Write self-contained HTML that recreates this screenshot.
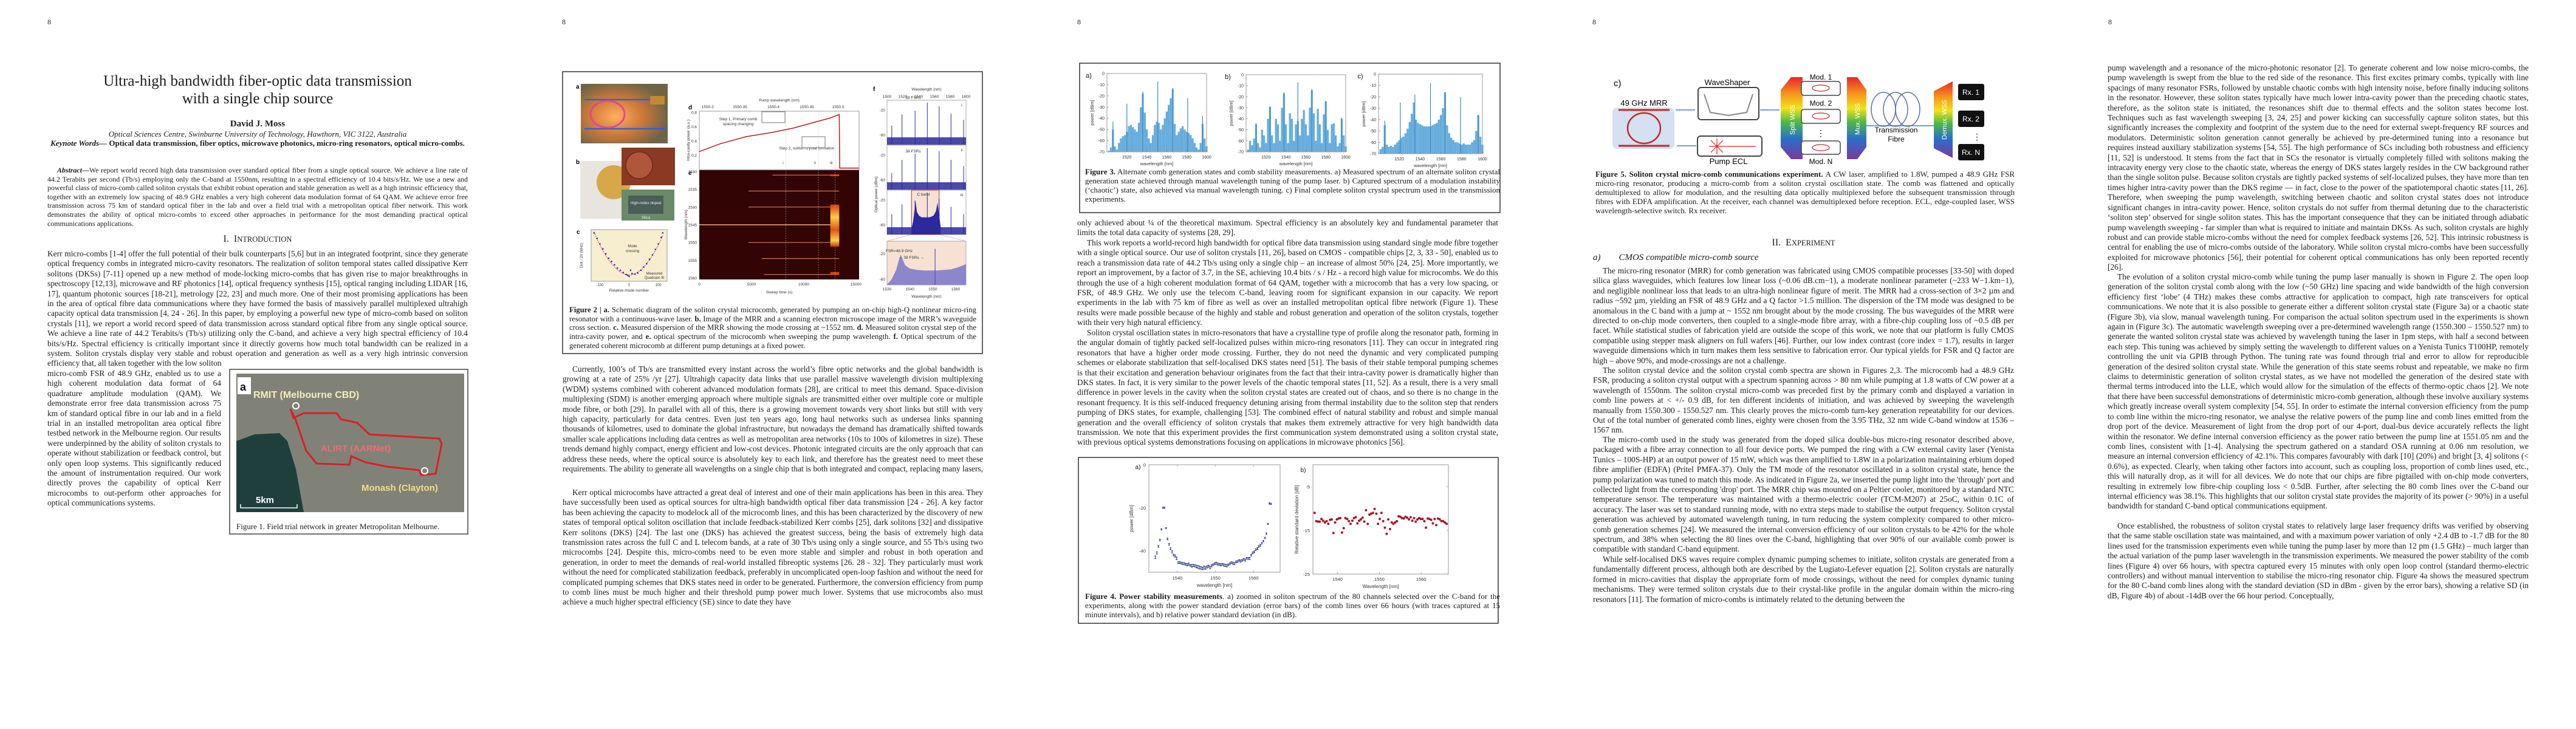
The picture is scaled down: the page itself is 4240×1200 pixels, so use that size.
<!DOCTYPE html>
<html><head><meta charset="utf-8">
<style>
html,body{margin:0;padding:0;background:#fff;}
body{width:4240px;height:1200px;position:relative;overflow:hidden;font-family:"Liberation Serif",serif;color:#1c1c1c;}
.pn{position:absolute;top:29px;font-size:12px;}
.t{position:absolute;font-size:13.4px;line-height:16.4px;text-align:justify;overflow:hidden;}
.ind{text-indent:16px;}
.cap{position:absolute;font-size:13px;line-height:15px;text-align:justify;overflow:hidden;}
.ctr{position:absolute;text-align:center;white-space:nowrap;}
svg{position:absolute;left:0;top:0;}
</style></head>
<body>
<svg id="figs" width="4240" height="1200" viewBox="0 0 4240 1200" xmlns="http://www.w3.org/2000/svg">
<defs>
<radialGradient id="glow" cx="0.4" cy="0.55" r="0.6"><stop offset="0" stop-color="#ffb060"/><stop offset="0.5" stop-color="#d07a3a"/><stop offset="1" stop-color="#6f6445"/></radialGradient>
<linearGradient id="rain" x1="0" y1="0" x2="0" y2="1"><stop offset="0" stop-color="#e8262a"/><stop offset="0.2" stop-color="#f7931e"/><stop offset="0.38" stop-color="#f2e21a"/><stop offset="0.55" stop-color="#4cb848"/><stop offset="0.75" stop-color="#2a6fc9"/><stop offset="1" stop-color="#7a3aa0"/></linearGradient>
<linearGradient id="hot" x1="0" y1="0" x2="0" y2="1"><stop offset="0" stop-color="#d63a10"/><stop offset="0.3" stop-color="#ffcc40"/><stop offset="0.6" stop-color="#e05010"/><stop offset="0.85" stop-color="#ffd040"/><stop offset="1" stop-color="#c03010"/></linearGradient>
</defs>
<!-- Figure 1 -->
<g>
<rect x="378" y="608" width="392" height="271" fill="#fff" stroke="#444" stroke-width="1.5"/>
<rect x="389" y="615" width="375" height="228" fill="#7b7d73"/>
<rect x="389" y="615" width="375" height="228" fill="#8c8a7c" opacity="0.4"/>
<polygon points="389,726 419,715 460,713 473,726 487,772 500,843 389,843" fill="#1f3f3c"/>
<polyline points="478,673 483,688 500,680 554,680 561,690 588,696 608,715 723,722 727,730 717,780 693,782 690,774 636,768 602,761 578,751 575,765 521,763 504,742 487,692 478,673" fill="none" stroke="#d82028" stroke-width="3"/>
<rect x="391" y="621" width="22" height="28" fill="#fff"/>
<text x="395" y="643" font-family="Liberation Sans" font-weight="bold" font-size="18" fill="#111">a</text>
<text x="417" y="655" font-family="Liberation Sans" font-weight="bold" font-size="16" fill="#f4eec0">RMIT (Melbourne CBD)</text>
<text x="528" y="743" font-family="Liberation Sans" font-weight="bold" font-size="15" fill="#f06a78">ALIRT (AARNet)</text>
<text x="595" y="808" font-family="Liberation Sans" font-weight="bold" font-size="15" fill="#f2de80">Monash (Clayton)</text>
<text x="421" y="828" font-family="Liberation Sans" font-weight="bold" font-size="15" fill="#fff">5km</text>
<polyline points="396,830 396,836 489,836 489,830" fill="none" stroke="#fff" stroke-width="1.5"/>
<circle cx="487" cy="668" r="5" fill="none" stroke="#fff" stroke-width="2"/>
<circle cx="699" cy="775" r="5" fill="none" stroke="#fff" stroke-width="2"/>
</g>
<!-- Figure 2 -->
<g>
<rect x="926" y="118" width="691" height="464" fill="#fff" stroke="#333" stroke-width="1.5"/>
<text x="948" y="146" font-family="Liberation Sans" font-weight="bold" font-size="10">a</text>
<rect x="956" y="138" width="143" height="98" fill="url(#glow)"/>
<line x1="962" y1="164" x2="1070" y2="164" stroke="#3a5cd8" stroke-width="2.5"/>
<line x1="962" y1="212" x2="1095" y2="212" stroke="#3a5cd8" stroke-width="2.5"/>
<ellipse cx="1000" cy="188" rx="28" ry="22" fill="none" stroke="#e04890" stroke-width="3"/>
<rect x="1070" y="158" width="24" height="14" fill="#c08a30"/>
<text x="948" y="270" font-family="Liberation Sans" font-weight="bold" font-size="10">b</text>
<rect x="955" y="265" width="68" height="95" fill="#e8e4de"/>
<circle cx="1010" cy="300" r="28" fill="#d6a84a"/>
<rect x="1023" y="243" width="88" height="62" fill="#8a3a22"/>
<circle cx="1052" cy="272" r="22" fill="#b0563a" stroke="#5a1e10"/>
<rect x="1023" y="312" width="87" height="51" fill="#6b8a68"/>
<rect x="1034" y="322" width="58" height="30" fill="#4a5e58"/>
<text x="1063" y="336" text-anchor="middle" font-family="Liberation Sans" font-size="6.5" fill="#eee">High-index doped</text>
<text x="1063" y="360" text-anchor="middle" font-family="Liberation Sans" font-size="6" fill="#eee">Silica</text>
<text x="949" y="385" font-family="Liberation Sans" font-weight="bold" font-size="10">c</text>
<text x="1133" y="180" font-family="Liberation Sans" font-weight="bold" font-size="10">d</text>
<text x="1133" y="288" font-family="Liberation Sans" font-weight="bold" font-size="10">e</text>
<text x="1437" y="150" font-family="Liberation Sans" font-weight="bold" font-size="10">f</text>
<g id="fig2c"></g>
<g id="fig2d"></g>
<g id="fig2e"></g>
<g id="fig2f"></g>
</g>
<!-- Figure 3 -->
<g>
<rect x="1777" y="104" width="692" height="246" fill="#fff" stroke="#333" stroke-width="1.5"/>
<g id="fig3"></g>
</g>
<!-- Figure 4 -->
<g>
<rect x="1775" y="753" width="691" height="273" fill="#fff" stroke="#333" stroke-width="1.5"/>
<g id="fig4"></g>
</g>
<!-- Figure 5 -->
<g font-family="Liberation Sans">
<text x="2656" y="142" font-size="15">c)</text>
<text x="2706" y="174" text-anchor="middle" font-size="13">49 GHz MRR</text>
<rect x="2654" y="177" width="102" height="68" rx="8" fill="#d5e0f0"/>
<line x1="2664" y1="181" x2="2748" y2="181" stroke="#c0282c" stroke-width="3"/>
<line x1="2664" y1="240" x2="2748" y2="240" stroke="#c0282c" stroke-width="3"/>
<ellipse cx="2706" cy="211" rx="27" ry="25" fill="none" stroke="#c0282c" stroke-width="2.5"/>
<line x1="2758" y1="181" x2="2790" y2="181" stroke="#7a9ad8" stroke-width="2"/>
<line x1="2792" y1="240" x2="2760" y2="240" stroke="#7a9ad8" stroke-width="2"/>
<text x="2843" y="140" text-anchor="middle" font-size="13">WaveShaper</text>
<rect x="2795" y="144" width="100" height="53" rx="5" fill="#fff" stroke="#444" stroke-width="2"/>
<polyline points="2805,155 2815,185 2845,190 2875,185 2885,155" fill="none" stroke="#888" stroke-width="2"/>
<line x1="2843" y1="152" x2="2843" y2="190" stroke="url(#rain)" stroke-width="3"/>
<rect x="2794" y="224" width="106" height="33" rx="5" fill="#fff" stroke="#444" stroke-width="2"/>
<g stroke="#e02020" stroke-width="1.2"><line x1="2813" y1="241" x2="2840" y2="241"/><line x1="2826" y1="228" x2="2826" y2="254"/><line x1="2816" y1="231" x2="2836" y2="251"/><line x1="2836" y1="231" x2="2816" y2="251"/><line x1="2840" y1="241" x2="2890" y2="241"/></g>
<text x="2845" y="270" text-anchor="middle" font-size="13">Pump ECL</text>
<line x1="2897" y1="181" x2="2929" y2="181" stroke="#7a9ad8" stroke-width="2"/>
<polygon points="2931,148 2948,127 2967,127 2967,262 2948,262 2931,242" fill="url(#rain)"/>
<text transform="translate(2954,222) rotate(-90)" font-size="11" fill="#fff">Split WSS</text>
<text x="2997" y="131" text-anchor="middle" font-size="12">Mod. 1</text>
<rect x="2965" y="134" width="64" height="23" rx="4" fill="#fff" stroke="#444" stroke-width="1.5"/>
<text x="2997" y="174" text-anchor="middle" font-size="12">Mod. 2</text>
<rect x="2965" y="180" width="64" height="23" rx="4" fill="#fff" stroke="#444" stroke-width="1.5"/>
<text x="2997" y="224" text-anchor="middle" font-size="14">⋮</text>
<rect x="2965" y="232" width="64" height="22" rx="4" fill="#fff" stroke="#444" stroke-width="1.5"/>
<text x="2997" y="270" text-anchor="middle" font-size="12">Mod. N</text>
<g fill="none" stroke="#c0282c" stroke-width="1.2"><ellipse cx="2997" cy="145" rx="14" ry="5"/><ellipse cx="2997" cy="191" rx="14" ry="5"/><ellipse cx="2997" cy="243" rx="14" ry="5"/></g>
<polygon points="3040,127 3057,127 3072,148 3072,242 3057,262 3040,262" fill="url(#rain)"/>
<text transform="translate(3061,222) rotate(-90)" font-size="11" fill="#fff">Mux. WSS</text>
<line x1="3072" y1="207" x2="3183" y2="207" stroke="#7a9ad8" stroke-width="2"/>
<g fill="none" stroke="#5a70a8" stroke-width="1.5"><ellipse cx="3100" cy="180" rx="20" ry="28"/><ellipse cx="3120" cy="180" rx="20" ry="28"/><ellipse cx="3140" cy="180" rx="20" ry="28"/></g>
<text x="3121" y="218" text-anchor="middle" font-size="12">Transmission</text>
<text x="3121" y="233" text-anchor="middle" font-size="12">Fibre</text>
<polygon points="3183,150 3214,134 3214,260 3183,244" fill="url(#rain)"/>
<text transform="translate(3204,230) rotate(-90)" font-size="11" fill="#fff">Demux. WSS</text>
<rect x="3223" y="138" width="43" height="27" rx="3" fill="#111"/>
<text x="3244" y="156" text-anchor="middle" font-size="12" fill="#fff">Rx. 1</text>
<rect x="3223" y="182" width="43" height="27" rx="3" fill="#111"/>
<text x="3244" y="200" text-anchor="middle" font-size="12" fill="#fff">Rx. 2</text>
<text x="3254" y="230" text-anchor="middle" font-size="14">⋮</text>
<rect x="3223" y="237" width="43" height="27" rx="3" fill="#111"/>
<text x="3244" y="255" text-anchor="middle" font-size="12" fill="#fff">Rx. N</text>
</g>
</svg>

<!-- page numbers -->
<div class="pn" style="left:78px">8</div>
<div class="pn" style="left:925px">8</div>
<div class="pn" style="left:1773px">8</div>
<div class="pn" style="left:2621px">8</div>
<div class="pn" style="left:3470px">8</div>

<!-- Page 1 -->
<div class="ctr" style="left:0;width:848px;top:119px;font-size:25px;line-height:29px">Ultra-high bandwidth fiber-optic data transmission<br>with a single chip source</div>
<div class="ctr" style="left:0;width:848px;top:196px;font-size:15px;font-weight:bold">David J. Moss</div>
<div class="ctr" style="left:0;width:848px;top:213px;font-size:13px;font-style:italic">Optical Sciences Centre, Swinburne University of Technology, Hawthorn, VIC 3122, Australia</div>
<div class="ctr" style="left:0;width:848px;top:228px;font-size:13px;font-weight:bold"><i>Keynote Words—</i> Optical data transmission, fiber optics, microwave photonics, micro-ring resonators, optical micro-combs.</div>
<div class="t" style="left:78px;top:273px;width:692px;height:104px;font-size:11.9px;line-height:14.6px;text-indent:16px"><b><i>Abstract</i>—</b>We report world record high data transmission over standard optical fiber from a single optical source. We achieve a line rate of 44.2 Terabits per second (Tb/s) employing only the C-band at 1550nm, resulting in a spectral efficiency of 10.4 bits/s/Hz. We use a new and powerful class of micro-comb called soliton crystals that exhibit robust operation and stable generation as well as a high intrinsic efficiency that, together with an extremely low spacing of 48.9 GHz enables a very high coherent data modulation format of 64 QAM. We achieve error free transmission across 75 km of standard optical fiber in the lab and over a field trial with a metropolitan optical fiber network. This work demonstrates the ability of optical micro-combs to exceed other approaches in performance for the most demanding practical optical communications applications.</div>
<div class="ctr" style="left:0;width:848px;top:385px;font-size:16px">I.&nbsp; I<span style="font-size:12.5px">NTRODUCTION</span></div>
<div class="t" style="left:78px;top:410px;width:692px;height:197px">Kerr micro-combs [1-4] offer the full potential of their bulk counterparts [5,6] but in an integrated footprint, since they generate optical frequency combs in integrated micro-cavity resonators. The realization of soliton temporal states called dissipative Kerr solitons (DKSs) [7-11] opened up a new method of mode-locking micro-combs that has given rise to major breakthroughs in spectroscopy [12,13], microwave and RF photonics [14], optical frequency synthesis [15], optical ranging including LIDAR [16, 17], quantum photonic sources [18-21], metrology [22, 23] and much more. One of their most promising applications has been in the area of optical fibre data communications where they have formed the basis of massively parallel multiplexed ultrahigh capacity optical data transmission [4, 24 - 26]. In this paper, by employing a powerful new type of micro-comb based on soliton crystals [11], we report a world record speed of data transmission across standard optical fibre from any single optical source. We achieve a line rate of 44.2 Terabits/s (Tb/s) utilizing only the C-band, and achieve a very high spectral efficiency of 10.4 bits/s/Hz. Spectral efficiency is critically important since it directly governs how much total bandwidth can be realized in a system. Soliton crystals display very stable and robust operation and generation as well as a very high intrinsic conversion efficiency that, all taken together with the low soliton</div>
<div class="t" style="left:78px;top:607px;width:286px;height:246px">micro-comb FSR of 48.9 GHz, enabled us to use a high coherent modulation data format of 64 quadrature amplitude modulation (QAM). We demonstrate error free data transmission across 75 km of standard optical fibre in our lab and in a field trial in an installed metropolitan area optical fibre testbed network in the Melbourne region. Our results were underpinned by the ability of soliton crystals to operate without stabilization or feedback control, but only open loop systems. This significantly reduced the amount of instrumentation required. Our work directly proves the capability of optical Kerr microcombs to out-perform other approaches for optical communications systems.</div>
<div class="cap" style="left:389px;top:859px;width:375px">Figure 1. Field trial network in greater Metropolitan Melbourne.</div>

<!-- Page 2 -->
<div class="cap" style="left:937px;top:503px;width:670px;font-size:12.7px;line-height:14.7px;height:75px"><b>Figure 2 | a.</b> Schematic diagram of the soliton crystal microcomb, generated by pumping an on-chip high-Q nonlinear micro-ring resonator with a continuous-wave laser. <b>b.</b> Image of the MRR and a scanning electron microscope image of the MRR’s waveguide cross section. <b>c.</b> Measured dispersion of the MRR showing the mode crossing at ~1552 nm. <b>d.</b> Measured soliton crystal step of the intra-cavity power, and <b>e.</b> optical spectrum of the microcomb when sweeping the pump wavelength. <b>f.</b> Optical spectrum of the generated coherent microcomb at different pump detunings at a fixed power.</div>
<div class="t ind" style="left:926px;top:600px;width:692px;height:181px">Currently, 100’s of Tb/s are transmitted every instant across the world’s fibre optic networks and the global bandwidth is growing at a rate of 25% /yr [27]. Ultrahigh capacity data links that use parallel massive wavelength division multiplexing (WDM) systems combined with coherent advanced modulation formats [28], are critical to meet this demand. Space-division multiplexing (SDM) is another emerging approach where multiple signals are transmitted either over multiple core or multiple mode fibre, or both [29]. In parallel with all of this, there is a growing movement towards very short links but still with very high capacity, particularly for data centres. Even just ten years ago, long haul networks such as undersea links spanning thousands of kilometres, used to dominate the global infrastructure, but nowadays the demand has dramatically shifted towards smaller scale applications including data centres as well as metropolitan area networks (10s to 100s of kilometres in size). These trends demand highly compact, energy efficient and low-cost devices. Photonic integrated circuits are the only approach that can address these needs, where the optical source is absolutely key to each link, and therefore has the greatest need to meet these requirements. The ability to generate all wavelengths on a single chip that is both integrated and compact, replacing many lasers, will yield the highest benefits [30-32].</div>
<div class="t ind" style="left:926px;top:803px;width:692px;height:197px">Kerr optical microcombs have attracted a great deal of interest and one of their main applications has been in this area. They have successfully been used as optical sources for ultra-high bandwidth optical fiber data transmission [24 - 26]. A key factor has been achieving the capacity to modelock all of the microcomb lines, and this has been characterized by the discovery of new states of temporal optical soliton oscillation that include feedback-stabilized Kerr combs [25], dark solitons [32] and dissipative Kerr solitons (DKS) [24]. The last one (DKS) has achieved the greatest success, being the basis of extremely high data transmission rates across the full C and L telecom bands, at a rate of 30 Tb/s using only a single source, and 55 Tb/s using two microcombs [24]. Despite this, micro-combs need to be even more stable and simpler and robust in both operation and generation, in order to meet the demands of real-world installed fibreoptic systems [26. 28 - 32]. They particularly must work without the need for complicated stabilization feedback, preferably in uncomplicated open-loop fashion and without the need for complicated pumping schemes that DKS states need in order to be generated. Furthermore, the conversion efficiency from pump to comb lines must be much higher and their threshold pump power much lower. Systems that use microcombs also must achieve a much higher spectral efficiency (SE) since to date they have</div>

<!-- Page 3 -->
<div class="cap" style="left:1786px;top:275px;width:683px;height:62px"><b>Figure 3.</b> Alternate comb generation states and comb stability measurements. a) Measured spectrum of an alternate soliton crystal generation state achieved through manual wavelength tuning of the pump laser. b) Captured spectrum of a modulation instability (‘chaotic’) state, also achieved via manual wavelength tuning. c) Final complete soliton crystal spectrum used in the transmission experiments.</div>
<div class="t" style="left:1773px;top:359px;width:693px;height:33px">only achieved about ¼ of the theoretical maximum. Spectral efficiency is an absolutely key and fundamental parameter that limits the total data capacity of systems [28, 29].</div>
<div class="t ind" style="left:1773px;top:392px;width:693px;height:148px">This work reports a world-record high bandwidth for optical fibre data transmission using standard single mode fibre together with a single optical source. Our use of soliton crystals [11, 26], based on CMOS - compatible chips [2, 3, 33 - 50], enabled us to reach a transmission data rate of 44.2 Tb/s using only a single chip – an increase of almost 50% [24, 25]. More importantly, we report an improvement, by a factor of 3.7, in the SE, achieving 10.4 bits / s / Hz - a record high value for microcombs. We do this through the use of a high coherent modulation format of 64 QAM, together with a microcomb that has a very low spacing, or FSR, of 48.9 GHz. We only use the telecom C-band, leaving room for significant expansion in our capacity. We report experiments in the lab with 75 km of fibre as well as over an installed metropolitan optical fibre network (Figure 1). These results were made possible because of the highly and stable and robust generation and operation of the soliton crystals, together with their very high natural efficiency.</div>
<div class="t ind" style="left:1773px;top:540px;width:693px;height:197px">Soliton crystal oscillation states in micro-resonators that have a crystalline type of profile along the resonator path, forming in the angular domain of tightly packed self-localized pulses within micro-ring resonators [11]. They can occur in integrated ring resonators that have a higher order mode crossing. Further, they do not need the dynamic and very complicated pumping schemes or elaborate stabilization that self-localised DKS states need [51]. The basis of their stable temporal pumping schemes is that their excitation and generation behaviour originates from the fact that their intra-cavity power is dramatically higher than DKS states. In fact, it is very similar to the power levels of the chaotic temporal states [11, 52]. As a result, there is a very small difference in power levels in the cavity when the soliton crystal states are created out of chaos, and so there is no change in the resonant frequency. It is this self-induced frequency detuning arising from thermal instability due to the soliton step that renders pumping of DKS states, for example, challenging [53]. The combined effect of natural stability and robust and simple manual generation and the overall efficiency of soliton crystals that makes them extremely attractive for very high bandwidth data transmission. We note that this experiment provides the first communication system demonstrated using a soliton crystal state, with previous optical systems demonstrations focusing on applications in microwave photonics [56].</div>
<div class="cap" style="left:1786px;top:974px;width:683px;height:46px"><b>Figure 4. Power stability measurements</b>. a) zoomed in soliton spectrum of the 80 channels selected over the C-band for the experiments, along with the power standard deviation (error bars) of the comb lines over 66 hours (with traces captured at 15 minute intervals), and b) relative power standard deviation (in dB).</div>

<!-- Page 4 -->
<div class="cap" style="left:2626px;top:279px;width:690px;height:76px"><b>Figure 5. Soliton crystal micro-comb communications experiment.</b> A CW laser, amplified to 1.8W, pumped a 48.9 GHz FSR micro-ring resonator, producing a micro-comb from a soliton crystal oscillation state. The comb was flattened and optically demultiplexed to allow for modulation, and the resulting data optically multiplexed before the subsequent transmission through fibres with EDFA amplification. At the receiver, each channel was demultiplexed before reception. ECL, edge-coupled laser, WSS wavelength-selective switch. Rx receiver.</div>
<div class="ctr" style="left:2622px;width:693px;top:391px;font-size:16px">II.&nbsp; E<span style="font-size:12.5px">XPERIMENT</span></div>
<div style="position:absolute;left:2622px;top:416px;font-size:15px;font-style:italic;white-space:nowrap">a)&nbsp;&nbsp;&nbsp;&nbsp;&nbsp;&nbsp;&nbsp;&nbsp;CMOS compatible micro-comb source</div>
<div class="t ind" style="left:2622px;top:438px;width:693px;height:164px">The micro-ring resonator (MRR) for comb generation was fabricated using CMOS compatible processes [33-50] with doped silica glass waveguides, which features low linear loss (~0.06 dB.cm−1), a moderate nonlinear parameter (~233 W−1.km−1), and negligible nonlinear loss that leads to an ultra-high nonlinear figure of merit. The MRR had a cross-section of 3×2 µm and radius ~592 µm, yielding an FSR of 48.9 GHz and a Q factor &gt;1.5 million. The dispersion of the TM mode was designed to be anomalous in the C band with a jump at ~ 1552 nm brought about by the mode crossing. The bus waveguides of the MRR were directed to on-chip mode converters, then coupled to a single-mode fibre array, with a fibre-chip coupling loss of ~0.5 dB per facet. While statistical studies of fabrication yield are outside the scope of this work, we note that our platform is fully CMOS compatible using stepper mask aligners on full wafers [46]. Further, our low index contrast (core index = 1.7), results in larger waveguide dimensions which in turn makes them less sensitive to fabrication error. Our typical yields for FSR and Q factor are high – above 90%, and mode-crossings are not a challenge.</div>
<div class="t ind" style="left:2622px;top:602px;width:693px;height:115px">The soliton crystal device and the soliton crystal comb spectra are shown in Figures 2,3. The microcomb had a 48.9 GHz FSR, producing a soliton crystal output with a spectrum spanning across &gt; 80 nm while pumping at 1.8 watts of CW power at a wavelength of 1550nm. The soliton crystal micro-comb was preceded first by the primary comb and displayed a variation in comb line powers at &lt; +/- 0.9 dB, for ten different incidents of initiation, and was achieved by sweeping the wavelength manually from 1550.300 - 1550.527 nm. This clearly proves the micro-comb turn-key generation repeatability for our devices. Out of the total number of generated comb lines, eighty were chosen from the 3.95 THz, 32 nm wide C-band window at 1536 – 1567 nm.</div>
<div class="t ind" style="left:2622px;top:716px;width:693px;height:197px">The micro-comb used in the study was generated from the doped silica double-bus micro-ring resonator described above, packaged with a fibre array connection to all four device ports. We pumped the ring with a CW external cavity laser (Yenista Tunics – 100S-HP) at an output power of 15 mW, which was then amplified to 1.8W in a polarization maintaining erbium doped fibre amplifier (EDFA) (Pritel PMFA-37). Only the TM mode of the resonator oscillated in a soliton crystal state, hence the pump polarization was tuned to match this mode. As indicated in Figure 2a, we inserted the pump light into the 'through' port and collected light from the corresponding 'drop' port. The MRR chip was mounted on a Peltier cooler, monitored by a standard NTC temperature sensor. The temperature was maintained with a thermo-electric cooler (TCM-M207) at 25oC, within 0.1C of accuracy. The laser was set to standard running mode, with no extra steps made to stabilise the output frequency. Soliton crystal generation was achieved by automated wavelength tuning, in turn reducing the system complexity compared to other micro-comb generation schemes [24]. We measured the internal conversion efficiency of our soliton crystals to be 42% for the whole spectrum, and 38% when selecting the 80 lines over the C-band, highlighting that over 90% of our available comb power is compatible with standard C-band equipment.</div>
<div class="t ind" style="left:2622px;top:913px;width:693px;height:83px">While self-localised DKS waves require complex dynamic pumping schemes to initiate, soliton crystals are generated from a fundamentally different process, although both are described by the Lugiato-Lefever equation [2]. Soliton crystals are naturally formed in micro-cavities that display the appropriate form of mode crossings, without the need for complex dynamic tuning mechanisms. They were termed soliton crystals due to their crystal-like profile in the angular domain within the micro-ring resonators [11]. The formation of micro-combs is intimately related to the detuning between the</div>

<!-- Page 5 -->
<div class="t" style="left:3469px;top:104px;width:693px;height:345px">pump wavelength and a resonance of the micro-photonic resonator [2]. To generate coherent and low noise micro-combs, the pump wavelength is swept from the blue to the red side of the resonance. This first excites primary combs, typically with line spacings of many resonator FSRs, followed by unstable chaotic combs with high intensity noise, before finally inducing solitons in the resonator. However, these soliton states typically have much lower intra-cavity power than the preceding chaotic states, therefore, as the soliton state is initiated, the resonances shift due to thermal effects and the soliton states become lost. Techniques such as fast wavelength sweeping [3, 24, 25] and power kicking can successfully capture soliton states, but this significantly increases the complexity and footprint of the system due to the need for external swept-frequency RF sources and modulators. Deterministic soliton generation cannot generally be achieved by pre-determined tuning into a resonance but requires instead auxiliary stabilization systems [54, 55]. The high performance of SCs including both robustness and efficiency [11, 52] is understood. It stems from the fact that in SCs the resonator is virtually completely filled with solitons making the intracavity energy very close to the chaotic state, whereas the energy of DKS states largely resides in the CW background rather than the single soliton pulse. Because soliton crystals are tightly packed systems of self-localized pulses, they have more than ten times higher intra-cavity power than the DKS regime — in fact, close to the power of the spatiotemporal chaotic states [11, 26]. Therefore, when sweeping the pump wavelength, switching between chaotic and soliton crystal states does not introduce significant changes in intra-cavity power. Hence, soliton crystals do not suffer from thermal detuning due to the characteristic ‘soliton step’ observed for single soliton states. This has the important consequence that they can be initiated through adiabatic pump wavelength sweeping - far simpler than what is required to initiate and maintain DKSs. As such, soliton crystals are highly robust and can provide stable micro-combs without the need for complex feedback systems [26, 52]. This intrinsic robustness is central for enabling the use of micro-combs outside of the laboratory. While soliton crystal micro-combs have been successfully exploited for microwave photonics [56], their potential for coherent optical communications has only been reported recently [26].</div>
<div class="t ind" style="left:3469px;top:448px;width:693px;height:411px">The evolution of a soliton crystal micro-comb while tuning the pump laser manually is shown in Figure 2. The open loop generation of the soliton crystal comb along with the low (~50 GHz) line spacing and wide bandwidth of the high conversion efficiency first ‘lobe’ (4 THz) makes these combs attractive for application to compact, high rate transceivers for optical communications. We note that it is also possible to generate either a different soliton crystal state (Figure 3a) or a chaotic state (Figure 3b), via slow, manual wavelength tuning. For comparison the actual soliton spectrum used in the experiments is shown again in (Figure 3c). The automatic wavelength sweeping over a pre-determined wavelength range (1550.300 – 1550.527 nm) to generate the wanted soliton crystal state was achieved by wavelength tuning the laser in 1pm steps, with half a second between each step. This tuning was achieved by simply setting the wavelength to different values on a Yenista Tunics T100HP, remotely controlling the unit via GPIB through Python. The tuning rate was found through trial and error to allow for reproducible generation of the desired soliton crystal state. While the generation of this state seems robust and repeatable, we make no firm claims to deterministic generation of soliton crystal states, as we have not modelled the generation of the desired state with thermal terms introduced into the LLE, which would allow for the simulation of the effects of thermo-optic chaos [2]. We note that there have been successful demonstrations of deterministic micro-comb generation, although these involve auxiliary systems which greatly increase overall system complexity [54, 55]. In order to estimate the internal conversion efficiency from the pump to comb line within the micro-ring resonator, we analyse the relative powers of the pump line and comb lines emitted from the drop port of the device. Measurement of light from the drop port of our 4-port, dual-bus device accurately reflects the light within the resonator. We define internal conversion efficiency as the power ratio between the pump line at 1551.05 nm and the comb lines, consistent with [1-4]. Analysing the spectrum gathered on a standard OSA running at 0.06 nm resolution, we measure an internal conversion efficiency of 42.1%. This compares favourably with dark [10] (20%) and bright [3, 4] solitons (&lt; 0.6%), as expected. Clearly, when taking other factors into account, such as coupling loss, proportion of comb lines used, etc., this will naturally drop, as it will for all devices. We do note that our chips are fibre pigtailed with on-chip mode converters, resulting in extremely low fibre-chip coupling loss &lt; 0.5dB. Further, after selecting the 80 comb lines over the C-band our internal efficiency was 38.1%. This highlights that our soliton crystal state provides the majority of its power (&gt; 90%) in a useful bandwidth for standard C-band optical communications equipment.</div>
<div class="t ind" style="left:3469px;top:858px;width:693px;height:132px">Once established, the robustness of soliton crystal states to relatively large laser frequency drifts was verified by observing that the same stable oscillation state was maintained, and with a maximum power variation of only +2.4 dB to -1.7 dB for the 80 lines used for the transmission experiments even while tuning the pump laser by more than 12 pm (1.5 GHz) – much larger than the actual variation of the pump laser wavelength in the transmission experiments. We measured the power stability of the comb lines (Figure 4) over 66 hours, with spectra captured every 15 minutes with only open loop control (standard thermo-electric controllers) and without manual intervention to stabilise the micro-ring resonator chip. Figure 4a shows the measured spectrum for the 80 C-band comb lines along with the standard deviation (SD in dBm - given by the error bars), showing a relative SD (in dB, Figure 4b) of about -14dB over the 66 hour period. Conceptually,</div>

<script>
// ---------- chart data ----------
// Figure 3: envelope power (dBm) every 2 nm starting at 1502 nm
const fig3Start = 1502;
const fig3aPower = [-69,-66,-50,-65,-68,-62,-58,-56,-55,-52,-47,-46,-48,-50,-52,-44,-30,-18,-35,-50,-58,-62,-55,-46,-43,-44,-50,-46,-40,-34,-28,-22,-14,-45,-55,-52,-49,-47,-50,-52,-53,-55,-58,-62,-66,-68,-62,-45,-58,-65];
const fig3bPower = [-68,-60,-64,-58,-45,-62,-66,-50,-55,-62,-40,-29,-55,-62,-40,-45,-60,-30,-17,-45,-62,-35,-40,-60,-45,-42,-55,-40,-32,-45,-55,-30,-14,-35,-60,-31,-45,-62,-36,-24,-50,-62,-45,-44,-55,-65,-62,-40,-55,-65];
const fig3cPower = [-66,-64,-45,-62,-64,-63,-64,-62,-60,-58,-56,-55,-52,-48,-42,-35,-25,-40,-43,-44,-45,-46,-46,-46,-46,-45,-44,-43,-40,-36,-30,-16,-45,-52,-56,-58,-60,-60,-61,-62,-61,-62,-62,-62,-60,-58,-50,-36,-55,-62];
const fig3aSpikeWl = [1506,1520,1536,1551,1566,1581,1596];
const fig3aSpikeDb = [-43,-27,-16,-7,-13,-22,-38];
const fig3bSpikeWl = [1510,1524,1538,1552,1566,1580,1596];
const fig3bSpikeDb = [-44,-29,-16,-7,-13,-24,-39];
const fig3cSpikeWl = [1506,1521,1535,1550,1564,1579,1596];
const fig3cSpikeDb = [-41,-25,-18,-8,-16,-20,-36];
const fig3YTicks = [0,-10,-20,-30,-40,-50,-60,-70];
const fig3XTicks = [1520,1540,1560,1580,1600];
// Figure 4a: 80 comb lines, power (dBm); first channel 1534.2 nm, 0.4 nm grid
const fig4aStart = 1534.2;
const fig4aPower = [-43,-41,-38,-35,-30,-20,-20,-29.5,-34.5,-37,-39,-40.5,-42,-42.5,-43.5,-45.5,-45.5,-45.7,-46,-46,-46.3,-46.5,-46.2,-46.8,-47,-46.8,-47,-47.3,-47.5,-47.8,-48,-48.2,-47.8,-48,-47.5,-47.2,-47.8,-47,-46.5,-46,-45.8,-46.2,-46.3,-46.5,-46.3,-46.6,-46.8,-47,-46.5,-46,-45.5,-45.8,-46,-45.2,-45,-44.5,-44.8,-44.5,-44,-44.3,-43.5,-43.5,-43.6,-42,-41,-40.5,-39.5,-39,-38,-37.5,-36.5,-35.5,-34,-32,-27.5,-18,-18.2];
const fig4aSd = [0.6,0.5,0.4,0.4,0.3,0.3,0.3,0.3,0.4,0.4,0.4,0.5,0.4,0.5,0.6,0.4,0.4,0.4,0.5,0.4,0.4,0.5,0.5,0.4,0.6,0.5,0.5,0.6,0.6,0.7,0.6,0.6,0.7,0.6,0.5,0.5,0.6,0.5,0.4,0.4,0.5,0.5,0.4,0.5,0.4,0.5,0.5,0.5,0.4,0.4,0.4,0.5,0.5,0.4,0.4,0.4,0.5,0.4,0.4,0.5,0.4,0.4,0.5,0.4,0.4,0.4,0.4,0.4,0.4,0.4,0.3,0.3,0.3,0.3,0.3,0.3,0.3];
const fig4aXTicks = [1540,1550,1560];
const fig4aYTicks = [0,-20,-40];
// Figure 4b: relative SD (dB)
const fig4bStart = 1534.5;
const fig4bStep = 0.41;
const fig4bRsd = [-11,-12.9,-13,-13,-12.4,-12.8,-13.2,-12.9,-13.5,-12.6,-12.5,-15.6,-13.2,-12.5,-12.3,-12.2,-15.5,-14.5,-12.2,-12.4,-12.9,-13.5,-12.8,-12.2,-12.0,-13.4,-12.8,-12.5,-12.1,-13.0,-10.4,-13.5,-11.4,-11.2,-11.0,-10.1,-11.2,-13.5,-12.4,-11,-12.9,-14.4,-15.8,-12.5,-14.7,-13.2,-13.5,-13.2,-12.9,-11.8,-11.9,-12.2,-12.3,-11.9,-12.1,-12.5,-12.0,-12.8,-12.2,-13.0,-12.5,-12.2,-12.4,-12.4,-12.9,-14.4,-12.3,-12.4,-12.6,-13.4,-12.4,-13.8,-12.3,-12.5,-12.9,-12.9,-13.2,-13.5];
const fig4bXTicks = [1540,1550,1560];
const fig4bYTicks = [-5,-15,-25];
// Figure 2c: dispersion
const fig2cModes = [-120,-110,-100,-90,-80,-70,-60,-50,-40,-30,-20,-10,-5,0,5,10,20,30,40,50,60,70,80,90,100,110,115];
const fig2cDint  = [400,350,300,255,210,170,140,110,80,60,40,22,15,5,60,30,25,35,60,90,120,160,200,250,300,360,400];
const fig2cFit   = [410,345,290,240,195,155,120,90,65,45,30,20,17,15,17,20,30,45,65,90,120,155,195,240,290,345,375];
// Figure 2d: intracavity power vs sweep time
const fig2dTime  = [0,2000,4500,7000,9000,11000,12500,13400,13450,15300];
const fig2dPower = [0.25,0.36,0.46,0.52,0.58,0.66,0.72,0.77,0.02,0.02];
const fig2dXTicks = [0,5000,10000,15000];
const fig2dYTicks = [0.2,0.4,0.6,0.8];
const fig2dTopTicks = ['1550.3','1550.35','1550.4','1550.45','1550.5'];
const fig2dTopTickTimes = [800,3900,7100,10300,13300];
const fig2Markers = [8300,11400,13000];
const fig2MarkerLabels = ['i','ii','iii'];
// Figure 2e: comb lines in spectrogram
const fig2eWl    = [1531,1535.5,1540,1545,1550,1554.5,1559];
const fig2eStart = [7000,4700,4700,0,4700,6000,6200];
const fig2eYTicks = [1530,1535,1540,1545,1550,1555,1560];
// Figure 2f: spike spectra (i, ii, iii) and zoom (iv)
const fig2fWl = [1506,1519,1535.5,1551,1566,1581,1597];
const fig2fDbI   = [-45,-27,-21,-8,-14,-26,-36];
const fig2fDbII  = [-49,-28,-18,-9,-14,-28,-38];
const fig2fDbIII = [-43,-27,-21,-8,-18,-31,-43];
const fig2fEnvWl = [1531,1533,1535,1536,1538,1541,1544,1547,1550,1553,1556,1559,1562,1564,1566,1568];
const fig2fEnvDb = [-66,-55,-35,-22,-40,-46,-48,-48,-48,-48,-47,-45,-38,-24,-45,-64];
const fig2fZoomWl = [1530,1532,1534,1535,1536,1537,1538,1540,1543,1546,1549,1552,1555,1558,1561,1564.5];
const fig2fZoomDb = [-68,-60,-45,-32,-21,-30,-38,-43,-45,-46,-46,-46,-45,-44,-41,-36];

// ---------- helpers ----------
const NS = 'http://www.w3.org/2000/svg';
function el(tag, parent){ const e = document.createElementNS(NS, tag); parent.appendChild(e); return e; }
function lin(d0,d1,r0,r1){ return v => r0 + (v-d0)*(r1-r0)/(d1-d0); }
function ln(p,x1,y1,x2,y2,stroke,w,name,dash){
  const e = el('line',p);
  e.setAttribute('x1',x1); e.setAttribute('y1',y1); e.setAttribute('x2',x2); e.setAttribute('y2',y2);
  e.setAttribute('stroke',stroke); e.setAttribute('stroke-width',w);
  if(dash) e.setAttribute('stroke-dasharray',dash);
  
  
  return e;
}
function tx(p,x,y,s,size,anchor,name,rot,fill){
  const e = el('text',p);
  e.setAttribute('x',x); e.setAttribute('y',y);
  e.setAttribute('font-size',size); e.setAttribute('font-family','Liberation Sans');
  e.setAttribute('text-anchor',anchor||'middle'); e.setAttribute('fill',fill||'#333');
  if(rot) e.setAttribute('transform','rotate('+rot+' '+x+' '+y+')');
  e.textContent = s;
  
  
  return e;
}
function rc(p,x,y,w,h,fill,stroke,name,op){
  const e = el('rect',p);
  e.setAttribute('x',x); e.setAttribute('y',y); e.setAttribute('width',Math.max(0,w)); e.setAttribute('height',Math.max(0,h));
  e.setAttribute('fill',fill||'none'); if(stroke) e.setAttribute('stroke',stroke);
  if(op!==undefined) e.setAttribute('opacity',op);
  
  
  return e;
}
function poly(p,pts,fill,stroke,w,name,dash){
  const e = el('polyline',p);
  e.setAttribute('points',pts.map(q=>q[0].toFixed(1)+','+q[1].toFixed(1)).join(' '));
  e.setAttribute('fill',fill||'none'); e.setAttribute('stroke',stroke||'none'); e.setAttribute('stroke-width',w||1);
  if(dash) e.setAttribute('stroke-dasharray',dash);
  
  
  return e;
}

// ---------- Figure 3 ----------
const g3 = document.getElementById('fig3');
function fig3Panel(key,label,px0,px1,py0,py1,pw,sw,sd){
  const x = lin(1500,1600,px0,px1), y = lin(0,-70,py0,py1);
  pw.forEach((v,i)=>{
    const wl = fig3Start + 2*i;
    rc(g3, x(wl-1), y(v), x(wl+1)-x(wl-1), py1-y(v), '#56a4d8', null, key+'-envelope-bar', 0.9);
  });
  sw.forEach((wl,i)=>{ ln(g3, x(wl), py1, x(wl), y(sd[i]), '#3b8ac6', 1.2, key+'-comb-spike'); });
  rc(g3, px0, py0, px1-px0, py1-py0, 'none', '#9a9a9a', key+'-axes-frame');
  fig3YTicks.forEach(t=>{ tx(g3, px0-4, y(t)+2.5, String(t), 7, 'end', key+'-y-tick'); ln(g3,px0,y(t),px0+3,y(t),'#777',0.6,key+'-y-tick-mark'); });
  fig3XTicks.forEach(t=>{ tx(g3, x(t), py1+11, String(t), 7, 'middle', key+'-x-tick'); ln(g3,x(t),py1,x(t),py1-3,'#777',0.6,key+'-x-tick-mark'); });
  tx(g3, (px0+px1)/2, py1+22, 'wavelength [nm]', 7.5, 'middle', key+'-x-axis-title');
  tx(g3, px0-22, (py0+py1)/2, 'power [dBm]', 7.5, 'middle', key+'-y-axis-title', -90);
  tx(g3, px0-30, py0+7, label, 11, 'middle', key+'-panel-label', 0, '#111');
}
fig3Panel('fig3a','a)',1822,1986,121,250,fig3aPower,fig3aSpikeWl,fig3aSpikeDb);
fig3Panel('fig3b','b)',2051,2215,123,250,fig3bPower,fig3bSpikeWl,fig3bSpikeDb);
fig3Panel('fig3c','c)',2269,2440,122,253,fig3cPower,fig3cSpikeWl,fig3cSpikeDb);

// ---------- Figure 4 ----------
const g4 = document.getElementById('fig4');
(function(){
  const px0=1891,px1=2107,py0=765,py1=942;
  const x = lin(1532.5,1567,px0,px1), y = lin(0,-50,py0,py1);
  rc(g4, px0, py0, px1-px0, py1-py0, 'none', '#9a9a9a', 'fig4a-axes-frame');
  fig4aPower.forEach((v,i)=>{
    const wl = fig4aStart + 0.4*i, cx = x(wl);
    const s = fig4aSd[i] || 0.4;
    ln(g4, cx, y(v-s), cx, y(v+s), '#1e2d7a', 1, 'fig4a-error-bar');
    ln(g4, cx-1.5, y(v-s), cx+1.5, y(v-s), '#1e2d7a', 1, 'fig4a-error-cap-low');
    ln(g4, cx-1.5, y(v+s), cx+1.5, y(v+s), '#1e2d7a', 1, 'fig4a-error-cap-high');
  });
  fig4aXTicks.forEach(t=>{ tx(g4, x(t), py1+12, String(t), 7.5, 'middle', 'fig4a-x-tick'); ln(g4,x(t),py1,x(t),py1-3,'#777',0.6,'fig4a-x-tick-mark'); ln(g4,x(t),py0,x(t),py0+3,'#777',0.6,'fig4a-x-tick-mark-top'); });
  fig4aYTicks.forEach(t=>{ tx(g4, px0-5, y(t)+3, String(t), 7.5, 'end', 'fig4a-y-tick'); });
  tx(g4, (px0+px1)/2, py1+24, 'wavelength [nm]', 8, 'middle', 'fig4a-x-axis-title');
  tx(g4, px0-26, (py0+py1)/2, 'power [dBm]', 8, 'middle', 'fig4a-y-axis-title', -90);
  tx(g4, px0-18, py0+7, 'a)', 10, 'middle', 'fig4a-panel-label', 0, '#111');
})();
(function(){
  const px0=2161,px1=2384,py0=765,py1=945;
  const x = lin(1534.1,1566.5,px0,px1), y = lin(0,-25,py0,py1);
  rc(g4, px0, py0, px1-px0, py1-py0, 'none', '#9a9a9a', 'fig4b-axes-frame');
  fig4bRsd.forEach((v,i)=>{
    const c = el('circle', g4);
    c.setAttribute('cx', x(fig4bStart + fig4bStep*i)); c.setAttribute('cy', y(v)); c.setAttribute('r', 2); c.setAttribute('fill', '#a3182e');
    
    
  });
  fig4bXTicks.forEach(t=>{ tx(g4, x(t), py1+11, String(t), 7.5, 'middle', 'fig4b-x-tick'); ln(g4,x(t),py1,x(t),py1-3,'#777',0.6,'fig4b-x-tick-mark'); });
  fig4bYTicks.forEach(t=>{ tx(g4, px0-5, y(t)+3, String(t), 7.5, 'end', 'fig4b-y-tick'); ln(g4,px1,y(t),px1-3,y(t),'#777',0.6,'fig4b-y-tick-mark'); });
  tx(g4, (px0+px1)/2, py1+23, 'Wavelength [nm]', 8, 'middle', 'fig4b-x-axis-title');
  tx(g4, px0-24, (py0+py1)/2, 'Relative standard deviation [dB]', 8, 'middle', 'fig4b-y-axis-title', -90);
  tx(g4, px0-16, py0+12, 'b)', 10, 'middle', 'fig4b-panel-label', 0, '#111');
})();

// ---------- Figure 2c ----------
(function(){
  const g = document.getElementById('fig2c');
  const px0=973,px1=1098,py0=378,py1=463;
  const x = lin(-130,130,px0,px1), y = lin(430,-40,py0,py1);
  rc(g, px0, py0, px1-px0, py1-py0, '#f7eed0', '#999', 'fig2c-axes');
  poly(g, fig2cModes.map((m,i)=>[x(m), y(fig2cFit[i])]), 'none', '#d03030', 1, 'fig2c-quadratic-fit', '2,1.5');
  fig2cModes.forEach((m,i)=>{
    const c = el('circle', g);
    c.setAttribute('cx', x(m)); c.setAttribute('cy', y(fig2cDint[i])); c.setAttribute('r', 1.3); c.setAttribute('fill', '#2a2ab0');
    
    
  });
  [-100,0,100].forEach(t=>{ tx(g, x(t), py1+8, String(t), 6, 'middle', 'fig2c-x-tick'); });
  tx(g, (px0+px1)/2, py1+17, 'Relative mode number', 6.5, 'middle', 'fig2c-x-axis-title');
  tx(g, px0-14, (py0+py1)/2, 'Dint / 2π (MHz)', 6, 'middle', 'fig2c-y-axis-title', -90);
  tx(g, 1041, 407, 'Mode', 6, 'middle', 'fig2c-annotation-mode');
  tx(g, 1041, 415, 'crossing', 6, 'middle', 'fig2c-annotation-crossing');
  tx(g, 1077, 452, 'Measured', 6, 'middle', 'fig2c-legend-measured');
  tx(g, 1077, 459, 'Quadratic fit', 6, 'middle', 'fig2c-legend-fit');
})();

// ---------- Figure 2d ----------
const T0=0, T1=15300, DX0=1151, DX1=1414;
const tX = lin(T0,T1,DX0,DX1);
(function(){
  const g = document.getElementById('fig2d');
  const py0=183, py1=279;
  const y = lin(0,0.8,py1,185);
  rc(g, DX0, py0, DX1-DX0, py1-py0, '#fff', '#999', 'fig2d-axes');
  poly(g, fig2dTime.map((t,i)=>[tX(t), y(fig2dPower[i])]), 'none', '#b02020', 1.5, 'fig2d-power-line');
  fig2dYTicks.forEach(t=>{ tx(g, DX0-4, y(t)+2.5, t.toFixed(1), 6.5, 'end', 'fig2d-y-tick'); });
  fig2dTopTicks.forEach((s,i)=>{ tx(g, tX(fig2dTopTickTimes[i]), py0-5, s, 6.5, 'middle', 'fig2d-top-tick'); });
  tx(g, (DX0+DX1)/2, py0-16, 'Pump wavelength (nm)', 6.5, 'middle', 'fig2d-top-axis-title');
  tx(g, DX0-16, (py0+py1)/2, 'Intra-cavity power (a.u.)', 6.5, 'middle', 'fig2d-y-axis-title', -90);
  tx(g, 1215, 198, 'Step 1, Primary comb', 6.5, 'middle', 'fig2d-annotation-step1');
  tx(g, 1215, 206, 'spacing changing', 6.5, 'middle', 'fig2d-annotation-step1b');
  tx(g, 1328, 246, 'Step 2, soliton crystal formation', 6.5, 'middle', 'fig2d-annotation-step2');
  rc(g, 1254, 184, 38, 18, 'none', '#777', 'fig2d-inset-1');
  rc(g, 1320, 225, 38, 18, 'none', '#777', 'fig2d-inset-2');
  fig2Markers.forEach((t,i)=>{ tx(g, tX(t)-4, 270, fig2MarkerLabels[i], 6.5, 'end', 'fig2d-marker-label'); });
})();

// ---------- Figure 2e ----------
(function(){
  const g = document.getElementById('fig2e');
  const py0=280, py1=460;
  const y = lin(1529.6,1560.4,py0,py1);
  rc(g, DX0, py0, DX1-DX0, py1-py0, '#320404', null, 'fig2e-background');
  fig2eWl.forEach((wl,i)=>{
    ln(g, tX(fig2eStart[i]), y(wl), tX(13400), y(wl), wl===1545 ? '#f0b080' : '#e08050', wl===1545 ? 1.6 : 1.1, 'fig2e-comb-line');
  });
  rc(g, tX(12550), y(1539.3), tX(13400)-tX(12550), y(1551.2)-y(1539.3), 'url(#hot)', null, 'fig2e-soliton-crystal-block');
  rc(g, tX(12550), y(1530.8), tX(13400)-tX(12550), 3, '#e04010', null, 'fig2e-block-top');
  rc(g, tX(12550), y(1558.3), tX(13400)-tX(12550), 4, '#e04010', null, 'fig2e-block-bottom');
  fig2eYTicks.forEach(t=>{ tx(g, DX0-4, y(t)+2.5, String(t), 6.5, 'end', 'fig2e-y-tick'); });
  fig2dXTicks.forEach(t=>{ tx(g, tX(t), py1+10, String(t), 6.5, 'middle', 'fig2e-x-tick'); });
  tx(g, (DX0+DX1)/2, py1+23, 'Sweep time (s)', 6.5, 'middle', 'fig2e-x-axis-title');
  tx(g, DX0-20, (py0+py1)/2, 'Wavelength (nm)', 6.5, 'middle', 'fig2e-y-axis-title', -90);
  fig2Markers.forEach(t=>{ ln(g, tX(t), 183, tX(t), py1, '#bbb', 0.6, 'fig2-marker-line', '2,2'); });
})();

// ---------- Figure 2f ----------
(function(){
  const g = document.getElementById('fig2f');
  const fx0=1460, fx1=1590;
  const x = lin(1500,1600,fx0,fx1);
  function sub(key, py0, py1, vals, roman, peach){
    const y = lin(-20,-60,py0+(py1-py0)*0.22,py0+(py1-py0)*0.78);
    rc(g, fx0, py0, fx1-fx0, py1-py0, '#fff', '#aaa', key+'-axes');
    if(peach) rc(g, x(1531), py0, x(1566)-x(1531), py1-py0, '#f6e1d2', '#c03030', key+'-c-band-region');
    if(peach){
      poly(g, fig2fEnvWl.map((w,i)=>[x(w), y(fig2fEnvDb[i])]).concat([[x(1568),py1],[x(1531),py1]]), '#2a2a9c', 'none', 1, key+'-lobe-envelope');
    }
    rc(g, fx0, y(-64), fx1-fx0, py1-y(-64), '#2a2a9c', null, key+'-noise-floor', 0.85);
    fig2fWl.forEach((w,i)=>{ ln(g, x(w), py1, x(w), y(vals[i]), '#2a2a9c', 1, key+'-comb-line'); });
    tx(g, fx0-3, y(-20)+2.5, '-20', 6.5, 'end', key+'-y-tick-20');
    tx(g, fx0-3, y(-60)+2.5, '-60', 6.5, 'end', key+'-y-tick-60');
    tx(g, fx1-7, py0+10, roman, 6.5, 'middle', key+'-label');
  }
  sub('fig2f-i', 165, 238, fig2fDbI, 'i', false);
  sub('fig2f-ii', 239, 312, fig2fDbII, 'ii', false);
  sub('fig2f-iii', 313, 386, fig2fDbIII, 'iii', true);
  tx(g, 1503, 225-62, '39 FSRs', 6.5, 'middle', 'fig2f-39fsr-label');
  tx(g, 1503, 251, '38 FSRs', 6.5, 'middle', 'fig2f-38fsr-label');
  tx(g, 1520, 322, 'C band', 6.5, 'middle', 'fig2f-c-band-label');
  [1500,1520,1540,1560,1580,1600].forEach(t=>{ tx(g, x(t), 161, String(t), 6.5, 'middle', 'fig2f-top-tick'); });
  tx(g, (fx0+fx1)/2, 149, 'Wavelength (nm)', 6.5, 'middle', 'fig2f-top-axis-title');
  tx(g, fx0-16, 320, 'Optical power (dBm)', 6.5, 'middle', 'fig2f-y-axis-title', -90);
  // zoom panel iv
  const zx = lin(1530,1564.5,1460,1590), zy = lin(-20,-60,418,460);
  rc(g, 1460, 397, 130, 72, '#f6e1d2', '#aaa', 'fig2f-zoom-axes');
  poly(g, fig2fZoomWl.map((w,i)=>[zx(w), zy(fig2fZoomDb[i])]).concat([[zx(1564.5),469],[zx(1530),469]]), '#8c86cc', 'none', 1, 'fig2f-zoom-envelope');
  ln(g, zx(1551), 469, zx(1551), zy(-12), '#5a50b8', 1.2, 'fig2f-zoom-pump-line');
  tx(g, 1480, 415, 'FSR=48.9 GHz', 6.5, 'middle', 'fig2f-fsr-label');
  tx(g, 1500, 426, '← 38 FSRs →', 6.5, 'middle', 'fig2f-zoom-38fsr');
  [1530,1540,1550,1560].forEach(t=>{ tx(g, zx(t), 478, String(t), 6.5, 'middle', 'fig2f-zoom-x-tick'); });
  tx(g, 1525, 490, 'Wavelength (nm)', 6.5, 'middle', 'fig2f-zoom-x-axis-title');
  tx(g, 1457, 420, '-20', 6.5, 'end', 'fig2f-zoom-y-tick-20');
  tx(g, 1457, 462, '-60', 6.5, 'end', 'fig2f-zoom-y-tick-60');
  ln(g, x(1531), 386, 1460, 397, '#c06060', 0.6, 'fig2f-zoom-connector-left', '2,1');
  ln(g, x(1566), 386, 1590, 397, '#c06060', 0.6, 'fig2f-zoom-connector-right', '2,1');
})();
</script>
</body></html>
